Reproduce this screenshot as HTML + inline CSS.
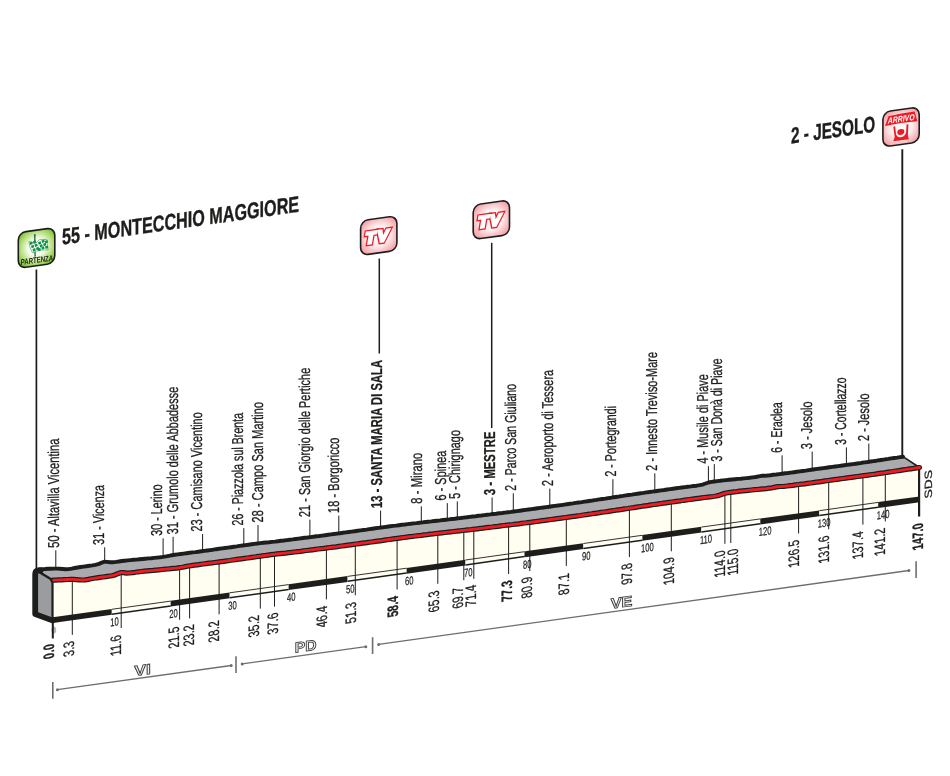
<!DOCTYPE html>
<html lang="it"><head><meta charset="utf-8"><title>Montecchio Maggiore - Jesolo</title>
<style>html,body{margin:0;padding:0;background:#fff}body{width:950px;height:776px;overflow:hidden}svg text{white-space:pre}</style></head>
<body>
<svg width="950" height="776" viewBox="0 0 950 776" style="display:block" font-family="'Liberation Sans', sans-serif">
<defs>
<radialGradient id="gG" cx="50%" cy="48%" r="64%"><stop offset="0" stop-color="#ffffff"/><stop offset="0.38" stop-color="#f4faea"/><stop offset="0.7" stop-color="#b3dd76"/><stop offset="1" stop-color="#63b824"/></radialGradient>
<radialGradient id="gP" cx="50%" cy="50%" r="65%"><stop offset="0" stop-color="#ffffff"/><stop offset="0.45" stop-color="#fdeff0"/><stop offset="0.8" stop-color="#f6b3b8"/><stop offset="1" stop-color="#f08f98"/></radialGradient>
<filter id="nf" x="0" y="0" width="950" height="776" filterUnits="userSpaceOnUse" color-interpolation-filters="sRGB"><feOffset dx="0" dy="0"/></filter>
</defs>
<rect width="950" height="776" fill="#fff"/>
<g filter="url(#nf)">
<g stroke="#1d1d1b" fill="none">
<line x1="36.4" y1="269.5" x2="36.4" y2="569" stroke-width="1.7"/>
<line x1="379.3" y1="258.5" x2="379.3" y2="353.5" stroke-width="1.5"/>
<line x1="491.7" y1="242.8" x2="491.7" y2="428" stroke-width="1.5"/>
<line x1="902.3" y1="149.3" x2="902.3" y2="457" stroke-width="1.9"/>
</g>
<polygon points="52.8,580.2 55.7,580.1 58.7,579.9 61.6,579.8 64.6,579.6 67.5,579.5 70.5,579.4 73.4,579.4 76.4,579.6 79.3,579.8 82.3,580.0 85.2,579.9 88.2,579.4 91.1,578.8 94.1,578.3 97.0,577.8 100.0,577.4 102.9,577.0 105.9,576.6 108.8,576.2 111.8,575.7 114.7,575.0 117.7,573.7 120.6,572.6 123.6,572.7 126.5,573.1 129.4,573.0 132.4,572.7 135.3,572.3 138.3,571.8 141.2,571.5 144.2,571.2 147.1,570.9 150.1,570.6 153.0,570.4 156.0,570.1 158.9,569.8 161.9,569.5 164.8,569.2 167.8,569.0 170.7,568.7 173.7,568.4 176.6,568.1 179.6,567.7 182.5,567.2 185.5,566.6 188.4,566.0 191.4,565.6 194.3,565.2 197.3,564.8 200.2,564.4 203.1,564.0 206.1,563.6 209.0,563.2 212.0,562.9 214.9,562.5 217.9,562.1 220.8,561.7 223.8,561.3 226.7,560.9 229.7,560.5 232.6,560.0 235.6,559.6 238.5,559.2 241.5,558.8 244.4,558.4 247.4,558.0 250.3,557.6 253.3,557.2 256.2,556.7 259.2,556.3 262.1,555.9 265.1,555.5 268.0,555.1 271.0,554.7 273.9,554.3 276.8,553.9 279.8,553.6 282.7,553.3 285.7,553.1 288.6,552.7 291.6,552.4 294.5,552.0 297.5,551.6 300.4,551.3 303.4,550.9 306.3,550.5 309.3,550.2 312.2,549.8 315.2,549.4 318.1,549.0 321.1,548.6 324.0,548.3 327.0,547.9 329.9,547.5 332.9,547.1 335.8,546.8 338.8,546.4 341.7,546.0 344.7,545.6 347.6,545.2 350.5,544.8 353.5,544.4 356.4,544.0 359.4,543.6 362.3,543.2 365.3,542.8 368.2,542.4 371.2,542.0 374.1,541.6 377.1,541.2 380.0,540.8 383.0,540.4 385.9,539.9 388.9,539.5 391.8,539.1 394.8,538.7 397.7,538.3 400.7,537.9 403.6,537.5 406.6,537.1 409.5,536.7 412.5,536.4 415.4,536.0 418.4,535.6 421.3,535.3 424.2,534.9 427.2,534.6 430.1,534.2 433.1,533.9 436.0,533.5 439.0,533.2 441.9,532.8 444.9,532.5 447.8,532.2 450.8,531.8 453.7,531.5 456.7,531.2 459.6,530.8 462.6,530.5 465.5,530.2 468.5,529.8 471.4,529.5 474.4,529.1 477.3,528.8 480.3,528.4 483.2,528.1 486.2,527.7 489.1,527.3 492.1,527.0 495.0,526.6 497.9,526.3 500.9,525.9 503.8,525.5 506.8,525.2 509.7,524.8 512.7,524.5 515.6,524.1 518.6,523.8 521.5,523.4 524.5,523.0 527.4,522.7 530.4,522.3 533.3,521.9 536.3,521.5 539.2,521.1 542.2,520.7 545.1,520.3 548.1,519.9 551.0,519.5 554.0,519.1 556.9,518.7 559.9,518.3 562.8,517.9 565.8,517.5 568.7,517.1 571.6,516.7 574.6,516.3 577.5,515.9 580.5,515.5 583.4,515.0 586.4,514.6 589.3,514.2 592.3,513.7 595.2,513.3 598.2,512.9 601.1,512.4 604.1,512.0 607.0,511.6 610.0,511.1 612.9,510.7 615.9,510.2 618.8,509.8 621.8,509.4 624.7,508.9 627.7,508.5 630.6,508.0 633.6,507.6 636.5,507.1 639.5,506.7 642.4,506.2 645.3,505.8 648.3,505.4 651.2,504.9 654.2,504.5 657.1,504.1 660.1,503.7 663.0,503.2 666.0,502.8 668.9,502.4 671.9,502.0 674.8,501.6 677.8,501.2 680.7,500.8 683.7,500.3 686.6,499.9 689.6,499.5 692.5,499.1 695.5,498.7 698.4,498.3 701.4,497.9 704.3,497.5 707.3,497.2 710.2,496.8 713.2,496.5 716.1,496.0 719.0,495.4 722.0,494.3 724.9,493.3 727.9,492.7 730.8,492.3 733.8,491.9 736.7,491.6 739.7,491.2 742.6,490.9 745.6,490.6 748.5,490.3 751.5,490.0 754.4,489.7 757.4,489.5 760.3,489.2 763.3,488.9 766.2,488.6 769.2,488.2 772.1,487.8 775.1,487.1 778.0,486.6 781.0,486.5 783.9,486.3 786.9,486.0 789.8,485.6 792.7,485.3 795.7,484.9 798.6,484.5 801.6,484.1 804.5,483.8 807.5,483.4 810.4,483.0 813.4,482.6 816.3,482.2 819.3,481.8 822.2,481.4 825.2,480.9 828.1,480.5 831.1,480.1 834.0,479.7 837.0,479.3 839.9,478.9 842.9,478.5 845.8,478.1 848.8,477.7 851.7,477.3 854.7,476.9 857.6,476.5 860.6,476.1 863.5,475.7 866.4,475.3 869.4,474.9 872.3,474.5 875.3,474.1 878.2,473.6 881.2,473.2 884.1,472.8 887.1,472.3 890.0,471.9 893.0,471.5 895.9,471.0 898.9,470.6 901.8,470.1 904.8,469.7 907.7,469.2 910.7,468.8 913.6,468.4 916.6,467.9 919.5,467.5 919.5,502.2 52.8,623.0" fill="#fffef1"/>
<polygon points="36.3,569.4 39.2,569.3 42.2,569.1 45.1,569.0 48.1,568.8 51.0,568.7 54.0,568.6 56.9,568.6 59.9,568.8 62.8,569.0 65.8,569.2 68.7,569.1 71.7,568.6 74.6,568.0 77.6,567.5 80.5,567.0 83.5,566.6 86.4,566.2 89.4,565.8 92.3,565.4 95.3,564.9 98.2,564.2 101.2,562.9 104.1,561.8 107.1,561.9 110.0,562.3 112.9,562.2 115.9,561.9 118.8,561.5 121.8,561.0 124.7,560.7 127.7,560.4 130.6,560.1 133.6,559.8 136.5,559.6 139.5,559.3 142.4,559.0 145.4,558.7 148.3,558.4 151.3,558.2 154.2,557.9 157.2,557.6 160.1,557.3 163.1,556.9 166.0,556.4 169.0,555.8 171.9,555.2 174.9,554.8 177.8,554.4 180.8,554.0 183.7,553.6 186.6,553.2 189.6,552.8 192.5,552.4 195.5,552.1 198.4,551.7 201.4,551.3 204.3,550.9 207.3,550.5 210.2,550.1 213.2,549.7 216.1,549.2 219.1,548.8 222.0,548.4 225.0,548.0 227.9,547.6 230.9,547.2 233.8,546.8 236.8,546.4 239.7,545.9 242.7,545.5 245.6,545.1 248.6,544.7 251.5,544.3 254.5,543.9 257.4,543.5 260.3,543.1 263.3,542.8 266.2,542.5 269.2,542.3 272.1,541.9 275.1,541.6 278.0,541.2 281.0,540.8 283.9,540.5 286.9,540.1 289.8,539.7 292.8,539.4 295.7,539.0 298.7,538.6 301.6,538.2 304.6,537.8 307.5,537.5 310.5,537.1 313.4,536.7 316.4,536.3 319.3,536.0 322.3,535.6 325.2,535.2 328.2,534.8 331.1,534.4 334.0,534.0 337.0,533.6 339.9,533.2 342.9,532.8 345.8,532.4 348.8,532.0 351.7,531.6 354.7,531.2 357.6,530.8 360.6,530.4 363.5,530.0 366.5,529.6 369.4,529.1 372.4,528.7 375.3,528.3 378.3,527.9 381.2,527.5 384.2,527.1 387.1,526.7 390.1,526.3 393.0,525.9 396.0,525.6 398.9,525.2 401.9,524.8 404.8,524.5 407.7,524.1 410.7,523.8 413.6,523.4 416.6,523.1 419.5,522.7 422.5,522.4 425.4,522.0 428.4,521.7 431.3,521.4 434.3,521.0 437.2,520.7 440.2,520.4 443.1,520.0 446.1,519.7 449.0,519.4 452.0,519.0 454.9,518.7 457.9,518.3 460.8,518.0 463.8,517.6 466.7,517.3 469.7,516.9 472.6,516.5 475.6,516.2 478.5,515.8 481.4,515.5 484.4,515.1 487.3,514.7 490.3,514.4 493.2,514.0 496.2,513.7 499.1,513.3 502.1,513.0 505.0,512.6 508.0,512.2 510.9,511.9 513.9,511.5 516.8,511.1 519.8,510.7 522.7,510.3 525.7,509.9 528.6,509.5 531.6,509.1 534.5,508.7 537.5,508.3 540.4,507.9 543.4,507.5 546.3,507.1 549.3,506.7 552.2,506.3 555.1,505.9 558.1,505.5 561.0,505.1 564.0,504.7 566.9,504.2 569.9,503.8 572.8,503.4 575.8,502.9 578.7,502.5 581.7,502.1 584.6,501.6 587.6,501.2 590.5,500.8 593.5,500.3 596.4,499.9 599.4,499.4 602.3,499.0 605.3,498.6 608.2,498.1 611.2,497.7 614.1,497.2 617.1,496.8 620.0,496.3 623.0,495.9 625.9,495.4 628.8,495.0 631.8,494.6 634.7,494.1 637.7,493.7 640.6,493.3 643.6,492.9 646.5,492.4 649.5,492.0 652.4,491.6 655.4,491.2 658.3,490.8 661.3,490.4 664.2,490.0 667.2,489.5 670.1,489.1 673.1,488.7 676.0,488.3 679.0,487.9 681.9,487.5 684.9,487.1 687.8,486.7 690.8,486.4 693.7,486.0 696.7,485.7 699.6,485.2 702.5,484.6 705.5,483.5 708.4,482.5 711.4,481.9 714.3,481.5 717.3,481.1 720.2,480.8 723.2,480.4 726.1,480.1 729.1,479.8 732.0,479.5 735.0,479.2 737.9,478.9 740.9,478.7 743.8,478.4 746.8,478.1 749.7,477.8 752.7,477.4 755.6,477.0 758.6,476.3 761.5,475.8 764.5,475.7 767.4,475.5 770.4,475.2 773.3,474.8 776.2,474.5 779.2,474.1 782.1,473.7 785.1,473.3 788.0,473.0 791.0,472.6 793.9,472.2 796.9,471.8 799.8,471.4 802.8,471.0 805.7,470.6 808.7,470.1 811.6,469.7 814.6,469.3 817.5,468.9 820.5,468.5 823.4,468.1 826.4,467.7 829.3,467.3 832.3,466.9 835.2,466.5 838.2,466.1 841.1,465.7 844.1,465.3 847.0,464.9 849.9,464.5 852.9,464.1 855.8,463.7 858.8,463.3 861.7,462.8 864.7,462.4 867.6,462.0 870.6,461.5 873.5,461.1 876.5,460.7 879.4,460.2 882.4,459.8 885.3,459.3 888.3,458.9 891.2,458.4 894.2,458.0 897.1,457.6 900.1,457.1 903.0,456.7 919.5,467.5 916.6,467.9 913.6,468.4 910.7,468.8 907.7,469.2 904.8,469.7 901.8,470.1 898.9,470.6 895.9,471.0 893.0,471.5 890.0,471.9 887.1,472.3 884.1,472.8 881.2,473.2 878.2,473.6 875.3,474.1 872.3,474.5 869.4,474.9 866.4,475.3 863.5,475.7 860.6,476.1 857.6,476.5 854.7,476.9 851.7,477.3 848.8,477.7 845.8,478.1 842.9,478.5 839.9,478.9 837.0,479.3 834.0,479.7 831.1,480.1 828.1,480.5 825.2,480.9 822.2,481.4 819.3,481.8 816.3,482.2 813.4,482.6 810.4,483.0 807.5,483.4 804.5,483.8 801.6,484.1 798.6,484.5 795.7,484.9 792.7,485.3 789.8,485.6 786.9,486.0 783.9,486.3 781.0,486.5 778.0,486.6 775.1,487.1 772.1,487.8 769.2,488.2 766.2,488.6 763.3,488.9 760.3,489.2 757.4,489.5 754.4,489.7 751.5,490.0 748.5,490.3 745.6,490.6 742.6,490.9 739.7,491.2 736.7,491.6 733.8,491.9 730.8,492.3 727.9,492.7 724.9,493.3 722.0,494.3 719.0,495.4 716.1,496.0 713.2,496.5 710.2,496.8 707.3,497.2 704.3,497.5 701.4,497.9 698.4,498.3 695.5,498.7 692.5,499.1 689.6,499.5 686.6,499.9 683.7,500.3 680.7,500.8 677.8,501.2 674.8,501.6 671.9,502.0 668.9,502.4 666.0,502.8 663.0,503.2 660.1,503.7 657.1,504.1 654.2,504.5 651.2,504.9 648.3,505.4 645.3,505.8 642.4,506.2 639.5,506.7 636.5,507.1 633.6,507.6 630.6,508.0 627.7,508.5 624.7,508.9 621.8,509.4 618.8,509.8 615.9,510.2 612.9,510.7 610.0,511.1 607.0,511.6 604.1,512.0 601.1,512.4 598.2,512.9 595.2,513.3 592.3,513.7 589.3,514.2 586.4,514.6 583.4,515.0 580.5,515.5 577.5,515.9 574.6,516.3 571.6,516.7 568.7,517.1 565.8,517.5 562.8,517.9 559.9,518.3 556.9,518.7 554.0,519.1 551.0,519.5 548.1,519.9 545.1,520.3 542.2,520.7 539.2,521.1 536.3,521.5 533.3,521.9 530.4,522.3 527.4,522.7 524.5,523.0 521.5,523.4 518.6,523.8 515.6,524.1 512.7,524.5 509.7,524.8 506.8,525.2 503.8,525.5 500.9,525.9 497.9,526.3 495.0,526.6 492.1,527.0 489.1,527.3 486.2,527.7 483.2,528.1 480.3,528.4 477.3,528.8 474.4,529.1 471.4,529.5 468.5,529.8 465.5,530.2 462.6,530.5 459.6,530.8 456.7,531.2 453.7,531.5 450.8,531.8 447.8,532.2 444.9,532.5 441.9,532.8 439.0,533.2 436.0,533.5 433.1,533.9 430.1,534.2 427.2,534.6 424.2,534.9 421.3,535.3 418.4,535.6 415.4,536.0 412.5,536.4 409.5,536.7 406.6,537.1 403.6,537.5 400.7,537.9 397.7,538.3 394.8,538.7 391.8,539.1 388.9,539.5 385.9,539.9 383.0,540.4 380.0,540.8 377.1,541.2 374.1,541.6 371.2,542.0 368.2,542.4 365.3,542.8 362.3,543.2 359.4,543.6 356.4,544.0 353.5,544.4 350.5,544.8 347.6,545.2 344.7,545.6 341.7,546.0 338.8,546.4 335.8,546.8 332.9,547.1 329.9,547.5 327.0,547.9 324.0,548.3 321.1,548.6 318.1,549.0 315.2,549.4 312.2,549.8 309.3,550.2 306.3,550.5 303.4,550.9 300.4,551.3 297.5,551.6 294.5,552.0 291.6,552.4 288.6,552.7 285.7,553.1 282.7,553.3 279.8,553.6 276.8,553.9 273.9,554.3 271.0,554.7 268.0,555.1 265.1,555.5 262.1,555.9 259.2,556.3 256.2,556.7 253.3,557.2 250.3,557.6 247.4,558.0 244.4,558.4 241.5,558.8 238.5,559.2 235.6,559.6 232.6,560.0 229.7,560.5 226.7,560.9 223.8,561.3 220.8,561.7 217.9,562.1 214.9,562.5 212.0,562.9 209.0,563.2 206.1,563.6 203.1,564.0 200.2,564.4 197.3,564.8 194.3,565.2 191.4,565.6 188.4,566.0 185.5,566.6 182.5,567.2 179.6,567.7 176.6,568.1 173.7,568.4 170.7,568.7 167.8,569.0 164.8,569.2 161.9,569.5 158.9,569.8 156.0,570.1 153.0,570.4 150.1,570.6 147.1,570.9 144.2,571.2 141.2,571.5 138.3,571.8 135.3,572.3 132.4,572.7 129.4,573.0 126.5,573.1 123.6,572.7 120.6,572.6 117.7,573.7 114.7,575.0 111.8,575.7 108.8,576.2 105.9,576.6 102.9,577.0 100.0,577.4 97.0,577.8 94.1,578.3 91.1,578.8 88.2,579.4 85.2,579.9 82.3,580.0 79.3,579.8 76.4,579.6 73.4,579.4 70.5,579.4 67.5,579.5 64.6,579.6 61.6,579.8 58.7,579.9 55.7,580.1 52.8,580.2" fill="#a9abae"/>
<polygon points="35.2,569.4 52.8,580.2 52.8,622.5 35.2,614.1" fill="#9a9c9f"/>
<polygon points="52.8,617.2 111.8,609.0 111.8,614.8 52.8,623.0" fill="#1d1d1b"/>
<polygon points="111.8,609.0 170.7,600.8 170.7,606.6 111.8,614.8" fill="#fffef4"/>
<line x1="111.8" y1="609.3" x2="170.7" y2="601.1" stroke="#1d1d1b" stroke-width="0.9"/>
<line x1="111.8" y1="614.2" x2="170.7" y2="606.0" stroke="#1d1d1b" stroke-width="1.5"/>
<polygon points="170.7,600.8 229.7,592.5 229.7,598.3 170.7,606.6" fill="#1d1d1b"/>
<polygon points="229.7,592.5 288.6,584.3 288.6,590.1 229.7,598.3" fill="#fffef4"/>
<line x1="229.7" y1="592.8" x2="288.6" y2="584.6" stroke="#1d1d1b" stroke-width="0.9"/>
<line x1="229.7" y1="597.7" x2="288.6" y2="589.5" stroke="#1d1d1b" stroke-width="1.5"/>
<polygon points="288.6,584.3 347.6,576.1 347.6,581.9 288.6,590.1" fill="#1d1d1b"/>
<polygon points="347.6,576.1 406.6,567.9 406.6,573.7 347.6,581.9" fill="#fffef4"/>
<line x1="347.6" y1="576.4" x2="406.6" y2="568.2" stroke="#1d1d1b" stroke-width="0.9"/>
<line x1="347.6" y1="581.3" x2="406.6" y2="573.1" stroke="#1d1d1b" stroke-width="1.5"/>
<polygon points="406.6,567.9 465.5,559.7 465.5,565.5 406.6,573.7" fill="#1d1d1b"/>
<polygon points="465.5,559.7 524.5,551.4 524.5,557.2 465.5,565.5" fill="#fffef4"/>
<line x1="465.5" y1="560.0" x2="524.5" y2="551.7" stroke="#1d1d1b" stroke-width="0.9"/>
<line x1="465.5" y1="564.9" x2="524.5" y2="556.6" stroke="#1d1d1b" stroke-width="1.5"/>
<polygon points="524.5,551.4 583.4,543.2 583.4,549.0 524.5,557.2" fill="#1d1d1b"/>
<polygon points="583.4,543.2 642.4,535.0 642.4,540.8 583.4,549.0" fill="#fffef4"/>
<line x1="583.4" y1="543.5" x2="642.4" y2="535.3" stroke="#1d1d1b" stroke-width="0.9"/>
<line x1="583.4" y1="548.4" x2="642.4" y2="540.2" stroke="#1d1d1b" stroke-width="1.5"/>
<polygon points="642.4,535.0 701.4,526.8 701.4,532.6 642.4,540.8" fill="#1d1d1b"/>
<polygon points="701.4,526.8 760.3,518.6 760.3,524.4 701.4,532.6" fill="#fffef4"/>
<line x1="701.4" y1="527.1" x2="760.3" y2="518.9" stroke="#1d1d1b" stroke-width="0.9"/>
<line x1="701.4" y1="532.0" x2="760.3" y2="523.8" stroke="#1d1d1b" stroke-width="1.5"/>
<polygon points="760.3,518.6 819.3,510.4 819.3,516.2 760.3,524.4" fill="#1d1d1b"/>
<polygon points="819.3,510.4 878.2,502.1 878.2,507.9 819.3,516.2" fill="#fffef4"/>
<line x1="819.3" y1="510.7" x2="878.2" y2="502.4" stroke="#1d1d1b" stroke-width="0.9"/>
<line x1="819.3" y1="515.6" x2="878.2" y2="507.3" stroke="#1d1d1b" stroke-width="1.5"/>
<polygon points="878.2,502.1 919.5,496.4 919.5,502.2 878.2,507.9" fill="#1d1d1b"/>
<g stroke="#1d1d1b" stroke-width="1">
<line x1="72.3" y1="579.4" x2="72.3" y2="634.8"/>
<line x1="121.2" y1="572.6" x2="121.2" y2="628.0"/>
<line x1="179.6" y1="567.7" x2="179.6" y2="619.8"/>
<line x1="189.6" y1="565.8" x2="189.6" y2="618.4"/>
<line x1="219.1" y1="561.9" x2="219.1" y2="614.3"/>
<line x1="260.3" y1="556.2" x2="260.3" y2="608.6"/>
<line x1="274.5" y1="554.2" x2="274.5" y2="606.6"/>
<line x1="326.4" y1="548.0" x2="326.4" y2="599.4"/>
<line x1="355.3" y1="544.2" x2="355.3" y2="595.3"/>
<line x1="397.1" y1="538.4" x2="397.1" y2="589.5"/>
<line x1="437.8" y1="533.3" x2="437.8" y2="583.8"/>
<line x1="463.8" y1="530.4" x2="463.8" y2="580.2"/>
<line x1="473.8" y1="529.2" x2="473.8" y2="578.8"/>
<line x1="508.6" y1="525.0" x2="508.6" y2="574.0"/>
<line x1="529.8" y1="522.3" x2="529.8" y2="571.0"/>
<line x1="566.3" y1="517.4" x2="566.3" y2="565.9"/>
<line x1="629.4" y1="508.2" x2="629.4" y2="557.1"/>
<line x1="671.3" y1="502.1" x2="671.3" y2="551.3"/>
<line x1="724.9" y1="493.3" x2="724.9" y2="543.8"/>
<line x1="730.8" y1="492.3" x2="730.8" y2="543.0"/>
<line x1="798.6" y1="484.5" x2="798.6" y2="533.5"/>
<line x1="828.7" y1="480.5" x2="828.7" y2="529.3"/>
<line x1="862.9" y1="475.8" x2="862.9" y2="524.6"/>
<line x1="885.3" y1="472.6" x2="885.3" y2="521.4"/>
</g>
<ellipse cx="53.8" cy="630.0" rx="2.4" ry="3.6" fill="#b3b4b7"/>
<line x1="52.8" y1="621.0" x2="52.8" y2="638.5" stroke="#1d1d1b" stroke-width="2"/>
<line x1="919.1" y1="467.5" x2="919.1" y2="516.5" stroke="#1d1d1b" stroke-width="2.2"/>
<path d="M52.3 620.4 L35.2 614.1 L35.2 574.0 Q35.2 570.4 38.8 570.4 L40.7 570.3" fill="none" stroke="#1d1d1b" stroke-width="5.8" stroke-linejoin="round" stroke-linecap="round"/>
<line x1="52.5" y1="580.2" x2="52.5" y2="622.0" stroke="#1d1d1b" stroke-width="2.2"/>
<line x1="36.2" y1="570.2" x2="52.8" y2="580.2" stroke="#1d1d1b" stroke-width="2.5"/>
<polyline points="38.4,569.4 42.2,569.1 45.1,569.0 48.1,568.8 51.0,568.7 54.0,568.6 56.9,568.6 59.9,568.8 62.8,569.0 65.8,569.2 68.7,569.1 71.7,568.6 74.6,568.0 77.6,567.5 80.5,567.0 83.5,566.6 86.4,566.2 89.4,565.8 92.3,565.4 95.3,564.9 98.2,564.2 101.2,562.9 104.1,561.8 107.1,561.9 110.0,562.3 112.9,562.2 115.9,561.9 118.8,561.5 121.8,561.0 124.7,560.7 127.7,560.4 130.6,560.1 133.6,559.8 136.5,559.6 139.5,559.3 142.4,559.0 145.4,558.7 148.3,558.4 151.3,558.2 154.2,557.9 157.2,557.6 160.1,557.3 163.1,556.9 166.0,556.4 169.0,555.8 171.9,555.2 174.9,554.8 177.8,554.4 180.8,554.0 183.7,553.6 186.6,553.2 189.6,552.8 192.5,552.4 195.5,552.1 198.4,551.7 201.4,551.3 204.3,550.9 207.3,550.5 210.2,550.1 213.2,549.7 216.1,549.2 219.1,548.8 222.0,548.4 225.0,548.0 227.9,547.6 230.9,547.2 233.8,546.8 236.8,546.4 239.7,545.9 242.7,545.5 245.6,545.1 248.6,544.7 251.5,544.3 254.5,543.9 257.4,543.5 260.3,543.1 263.3,542.8 266.2,542.5 269.2,542.3 272.1,541.9 275.1,541.6 278.0,541.2 281.0,540.8 283.9,540.5 286.9,540.1 289.8,539.7 292.8,539.4 295.7,539.0 298.7,538.6 301.6,538.2 304.6,537.8 307.5,537.5 310.5,537.1 313.4,536.7 316.4,536.3 319.3,536.0 322.3,535.6 325.2,535.2 328.2,534.8 331.1,534.4 334.0,534.0 337.0,533.6 339.9,533.2 342.9,532.8 345.8,532.4 348.8,532.0 351.7,531.6 354.7,531.2 357.6,530.8 360.6,530.4 363.5,530.0 366.5,529.6 369.4,529.1 372.4,528.7 375.3,528.3 378.3,527.9 381.2,527.5 384.2,527.1 387.1,526.7 390.1,526.3 393.0,525.9 396.0,525.6 398.9,525.2 401.9,524.8 404.8,524.5 407.7,524.1 410.7,523.8 413.6,523.4 416.6,523.1 419.5,522.7 422.5,522.4 425.4,522.0 428.4,521.7 431.3,521.4 434.3,521.0 437.2,520.7 440.2,520.4 443.1,520.0 446.1,519.7 449.0,519.4 452.0,519.0 454.9,518.7 457.9,518.3 460.8,518.0 463.8,517.6 466.7,517.3 469.7,516.9 472.6,516.5 475.6,516.2 478.5,515.8 481.4,515.5 484.4,515.1 487.3,514.7 490.3,514.4 493.2,514.0 496.2,513.7 499.1,513.3 502.1,513.0 505.0,512.6 508.0,512.2 510.9,511.9 513.9,511.5 516.8,511.1 519.8,510.7 522.7,510.3 525.7,509.9 528.6,509.5 531.6,509.1 534.5,508.7 537.5,508.3 540.4,507.9 543.4,507.5 546.3,507.1 549.3,506.7 552.2,506.3 555.1,505.9 558.1,505.5 561.0,505.1 564.0,504.7 566.9,504.2 569.9,503.8 572.8,503.4 575.8,502.9 578.7,502.5 581.7,502.1 584.6,501.6 587.6,501.2 590.5,500.8 593.5,500.3 596.4,499.9 599.4,499.4 602.3,499.0 605.3,498.6 608.2,498.1 611.2,497.7 614.1,497.2 617.1,496.8 620.0,496.3 623.0,495.9 625.9,495.4 628.8,495.0 631.8,494.6 634.7,494.1 637.7,493.7 640.6,493.3 643.6,492.9 646.5,492.4 649.5,492.0 652.4,491.6 655.4,491.2 658.3,490.8 661.3,490.4 664.2,490.0 667.2,489.5 670.1,489.1 673.1,488.7 676.0,488.3 679.0,487.9 681.9,487.5 684.9,487.1 687.8,486.7 690.8,486.4 693.7,486.0 696.7,485.7 699.6,485.2 702.5,484.6 705.5,483.5 708.4,482.5 711.4,481.9 714.3,481.5 717.3,481.1 720.2,480.8 723.2,480.4 726.1,480.1 729.1,479.8 732.0,479.5 735.0,479.2 737.9,478.9 740.9,478.7 743.8,478.4 746.8,478.1 749.7,477.8 752.7,477.4 755.6,477.0 758.6,476.3 761.5,475.8 764.5,475.7 767.4,475.5 770.4,475.2 773.3,474.8 776.2,474.5 779.2,474.1 782.1,473.7 785.1,473.3 788.0,473.0 791.0,472.6 793.9,472.2 796.9,471.8 799.8,471.4 802.8,471.0 805.7,470.6 808.7,470.1 811.6,469.7 814.6,469.3 817.5,468.9 820.5,468.5 823.4,468.1 826.4,467.7 829.3,467.3 832.3,466.9 835.2,466.5 838.2,466.1 841.1,465.7 844.1,465.3 847.0,464.9 849.9,464.5 852.9,464.1 855.8,463.7 858.8,463.3 861.7,462.8 864.7,462.4 867.6,462.0 870.6,461.5 873.5,461.1 876.5,460.7 879.4,460.2 882.4,459.8 885.3,459.3 888.3,458.9 891.2,458.4 894.2,458.0 897.1,457.6 900.1,457.1 903.0,456.7" fill="none" stroke="#1d1d1b" stroke-width="3.9" stroke-linejoin="round" stroke-linecap="round"/>
<line x1="903.0" y1="456.7" x2="919.5" y2="467.5" stroke="#1d1d1b" stroke-width="1.6"/>
<polyline points="52.8,580.2 55.7,580.1 58.7,579.9 61.6,579.8 64.6,579.6 67.5,579.5 70.5,579.4 73.4,579.4 76.4,579.6 79.3,579.8 82.3,580.0 85.2,579.9 88.2,579.4 91.1,578.8 94.1,578.3 97.0,577.8 100.0,577.4 102.9,577.0 105.9,576.6 108.8,576.2 111.8,575.7 114.7,575.0 117.7,573.7 120.6,572.6 123.6,572.7 126.5,573.1 129.4,573.0 132.4,572.7 135.3,572.3 138.3,571.8 141.2,571.5 144.2,571.2 147.1,570.9 150.1,570.6 153.0,570.4 156.0,570.1 158.9,569.8 161.9,569.5 164.8,569.2 167.8,569.0 170.7,568.7 173.7,568.4 176.6,568.1 179.6,567.7 182.5,567.2 185.5,566.6 188.4,566.0 191.4,565.6 194.3,565.2 197.3,564.8 200.2,564.4 203.1,564.0 206.1,563.6 209.0,563.2 212.0,562.9 214.9,562.5 217.9,562.1 220.8,561.7 223.8,561.3 226.7,560.9 229.7,560.5 232.6,560.0 235.6,559.6 238.5,559.2 241.5,558.8 244.4,558.4 247.4,558.0 250.3,557.6 253.3,557.2 256.2,556.7 259.2,556.3 262.1,555.9 265.1,555.5 268.0,555.1 271.0,554.7 273.9,554.3 276.8,553.9 279.8,553.6 282.7,553.3 285.7,553.1 288.6,552.7 291.6,552.4 294.5,552.0 297.5,551.6 300.4,551.3 303.4,550.9 306.3,550.5 309.3,550.2 312.2,549.8 315.2,549.4 318.1,549.0 321.1,548.6 324.0,548.3 327.0,547.9 329.9,547.5 332.9,547.1 335.8,546.8 338.8,546.4 341.7,546.0 344.7,545.6 347.6,545.2 350.5,544.8 353.5,544.4 356.4,544.0 359.4,543.6 362.3,543.2 365.3,542.8 368.2,542.4 371.2,542.0 374.1,541.6 377.1,541.2 380.0,540.8 383.0,540.4 385.9,539.9 388.9,539.5 391.8,539.1 394.8,538.7 397.7,538.3 400.7,537.9 403.6,537.5 406.6,537.1 409.5,536.7 412.5,536.4 415.4,536.0 418.4,535.6 421.3,535.3 424.2,534.9 427.2,534.6 430.1,534.2 433.1,533.9 436.0,533.5 439.0,533.2 441.9,532.8 444.9,532.5 447.8,532.2 450.8,531.8 453.7,531.5 456.7,531.2 459.6,530.8 462.6,530.5 465.5,530.2 468.5,529.8 471.4,529.5 474.4,529.1 477.3,528.8 480.3,528.4 483.2,528.1 486.2,527.7 489.1,527.3 492.1,527.0 495.0,526.6 497.9,526.3 500.9,525.9 503.8,525.5 506.8,525.2 509.7,524.8 512.7,524.5 515.6,524.1 518.6,523.8 521.5,523.4 524.5,523.0 527.4,522.7 530.4,522.3 533.3,521.9 536.3,521.5 539.2,521.1 542.2,520.7 545.1,520.3 548.1,519.9 551.0,519.5 554.0,519.1 556.9,518.7 559.9,518.3 562.8,517.9 565.8,517.5 568.7,517.1 571.6,516.7 574.6,516.3 577.5,515.9 580.5,515.5 583.4,515.0 586.4,514.6 589.3,514.2 592.3,513.7 595.2,513.3 598.2,512.9 601.1,512.4 604.1,512.0 607.0,511.6 610.0,511.1 612.9,510.7 615.9,510.2 618.8,509.8 621.8,509.4 624.7,508.9 627.7,508.5 630.6,508.0 633.6,507.6 636.5,507.1 639.5,506.7 642.4,506.2 645.3,505.8 648.3,505.4 651.2,504.9 654.2,504.5 657.1,504.1 660.1,503.7 663.0,503.2 666.0,502.8 668.9,502.4 671.9,502.0 674.8,501.6 677.8,501.2 680.7,500.8 683.7,500.3 686.6,499.9 689.6,499.5 692.5,499.1 695.5,498.7 698.4,498.3 701.4,497.9 704.3,497.5 707.3,497.2 710.2,496.8 713.2,496.5 716.1,496.0 719.0,495.4 722.0,494.3 724.9,493.3 727.9,492.7 730.8,492.3 733.8,491.9 736.7,491.6 739.7,491.2 742.6,490.9 745.6,490.6 748.5,490.3 751.5,490.0 754.4,489.7 757.4,489.5 760.3,489.2 763.3,488.9 766.2,488.6 769.2,488.2 772.1,487.8 775.1,487.1 778.0,486.6 781.0,486.5 783.9,486.3 786.9,486.0 789.8,485.6 792.7,485.3 795.7,484.9 798.6,484.5 801.6,484.1 804.5,483.8 807.5,483.4 810.4,483.0 813.4,482.6 816.3,482.2 819.3,481.8 822.2,481.4 825.2,480.9 828.1,480.5 831.1,480.1 834.0,479.7 837.0,479.3 839.9,478.9 842.9,478.5 845.8,478.1 848.8,477.7 851.7,477.3 854.7,476.9 857.6,476.5 860.6,476.1 863.5,475.7 866.4,475.3 869.4,474.9 872.3,474.5 875.3,474.1 878.2,473.6 881.2,473.2 884.1,472.8 887.1,472.3 890.0,471.9 893.0,471.5 895.9,471.0 898.9,470.6 901.8,470.1 904.8,469.7 907.7,469.2 910.7,468.8 913.6,468.4 916.6,467.9 919.5,467.5" fill="none" stroke="#1d1d1b" stroke-width="5.2" stroke-linejoin="round" stroke-linecap="round"/>
<polyline points="53.6,580.2 55.7,580.1 58.7,579.9 61.6,579.8 64.6,579.6 67.5,579.5 70.5,579.4 73.4,579.4 76.4,579.6 79.3,579.8 82.3,580.0 85.2,579.9 88.2,579.4 91.1,578.8 94.1,578.3 97.0,577.8 100.0,577.4 102.9,577.0 105.9,576.6 108.8,576.2 111.8,575.7 114.7,575.0 117.7,573.7 120.6,572.6 123.6,572.7 126.5,573.1 129.4,573.0 132.4,572.7 135.3,572.3 138.3,571.8 141.2,571.5 144.2,571.2 147.1,570.9 150.1,570.6 153.0,570.4 156.0,570.1 158.9,569.8 161.9,569.5 164.8,569.2 167.8,569.0 170.7,568.7 173.7,568.4 176.6,568.1 179.6,567.7 182.5,567.2 185.5,566.6 188.4,566.0 191.4,565.6 194.3,565.2 197.3,564.8 200.2,564.4 203.1,564.0 206.1,563.6 209.0,563.2 212.0,562.9 214.9,562.5 217.9,562.1 220.8,561.7 223.8,561.3 226.7,560.9 229.7,560.5 232.6,560.0 235.6,559.6 238.5,559.2 241.5,558.8 244.4,558.4 247.4,558.0 250.3,557.6 253.3,557.2 256.2,556.7 259.2,556.3 262.1,555.9 265.1,555.5 268.0,555.1 271.0,554.7 273.9,554.3 276.8,553.9 279.8,553.6 282.7,553.3 285.7,553.1 288.6,552.7 291.6,552.4 294.5,552.0 297.5,551.6 300.4,551.3 303.4,550.9 306.3,550.5 309.3,550.2 312.2,549.8 315.2,549.4 318.1,549.0 321.1,548.6 324.0,548.3 327.0,547.9 329.9,547.5 332.9,547.1 335.8,546.8 338.8,546.4 341.7,546.0 344.7,545.6 347.6,545.2 350.5,544.8 353.5,544.4 356.4,544.0 359.4,543.6 362.3,543.2 365.3,542.8 368.2,542.4 371.2,542.0 374.1,541.6 377.1,541.2 380.0,540.8 383.0,540.4 385.9,539.9 388.9,539.5 391.8,539.1 394.8,538.7 397.7,538.3 400.7,537.9 403.6,537.5 406.6,537.1 409.5,536.7 412.5,536.4 415.4,536.0 418.4,535.6 421.3,535.3 424.2,534.9 427.2,534.6 430.1,534.2 433.1,533.9 436.0,533.5 439.0,533.2 441.9,532.8 444.9,532.5 447.8,532.2 450.8,531.8 453.7,531.5 456.7,531.2 459.6,530.8 462.6,530.5 465.5,530.2 468.5,529.8 471.4,529.5 474.4,529.1 477.3,528.8 480.3,528.4 483.2,528.1 486.2,527.7 489.1,527.3 492.1,527.0 495.0,526.6 497.9,526.3 500.9,525.9 503.8,525.5 506.8,525.2 509.7,524.8 512.7,524.5 515.6,524.1 518.6,523.8 521.5,523.4 524.5,523.0 527.4,522.7 530.4,522.3 533.3,521.9 536.3,521.5 539.2,521.1 542.2,520.7 545.1,520.3 548.1,519.9 551.0,519.5 554.0,519.1 556.9,518.7 559.9,518.3 562.8,517.9 565.8,517.5 568.7,517.1 571.6,516.7 574.6,516.3 577.5,515.9 580.5,515.5 583.4,515.0 586.4,514.6 589.3,514.2 592.3,513.7 595.2,513.3 598.2,512.9 601.1,512.4 604.1,512.0 607.0,511.6 610.0,511.1 612.9,510.7 615.9,510.2 618.8,509.8 621.8,509.4 624.7,508.9 627.7,508.5 630.6,508.0 633.6,507.6 636.5,507.1 639.5,506.7 642.4,506.2 645.3,505.8 648.3,505.4 651.2,504.9 654.2,504.5 657.1,504.1 660.1,503.7 663.0,503.2 666.0,502.8 668.9,502.4 671.9,502.0 674.8,501.6 677.8,501.2 680.7,500.8 683.7,500.3 686.6,499.9 689.6,499.5 692.5,499.1 695.5,498.7 698.4,498.3 701.4,497.9 704.3,497.5 707.3,497.2 710.2,496.8 713.2,496.5 716.1,496.0 719.0,495.4 722.0,494.3 724.9,493.3 727.9,492.7 730.8,492.3 733.8,491.9 736.7,491.6 739.7,491.2 742.6,490.9 745.6,490.6 748.5,490.3 751.5,490.0 754.4,489.7 757.4,489.5 760.3,489.2 763.3,488.9 766.2,488.6 769.2,488.2 772.1,487.8 775.1,487.1 778.0,486.6 781.0,486.5 783.9,486.3 786.9,486.0 789.8,485.6 792.7,485.3 795.7,484.9 798.6,484.5 801.6,484.1 804.5,483.8 807.5,483.4 810.4,483.0 813.4,482.6 816.3,482.2 819.3,481.8 822.2,481.4 825.2,480.9 828.1,480.5 831.1,480.1 834.0,479.7 837.0,479.3 839.9,478.9 842.9,478.5 845.8,478.1 848.8,477.7 851.7,477.3 854.7,476.9 857.6,476.5 860.6,476.1 863.5,475.7 866.4,475.3 869.4,474.9 872.3,474.5 875.3,474.1 878.2,473.6 881.2,473.2 884.1,472.8 887.1,472.3 890.0,471.9 893.0,471.5 895.9,471.0 898.9,470.6 901.8,470.1 904.8,469.7 907.7,469.2 910.7,468.8 913.6,468.4 916.6,467.9 919.5,467.5" fill="none" stroke="#ee1c25" stroke-width="2.8" stroke-linejoin="round" stroke-linecap="round"/>
<g stroke="#1d1d1b" stroke-width="1">
<line x1="55.8" y1="550.3" x2="55.8" y2="568.6"/>
<line x1="104.7" y1="547.3" x2="104.7" y2="561.8"/>
<line x1="163.1" y1="538.3" x2="163.1" y2="556.9"/>
<line x1="173.1" y1="536.8" x2="173.1" y2="555.0"/>
<line x1="202.6" y1="534.0" x2="202.6" y2="551.1"/>
<line x1="243.8" y1="528.1" x2="243.8" y2="545.4"/>
<line x1="258.0" y1="525.0" x2="258.0" y2="543.4"/>
<line x1="309.9" y1="519.6" x2="309.9" y2="537.2"/>
<line x1="338.8" y1="515.6" x2="338.8" y2="533.4"/>
<line x1="380.6" y1="510.6" x2="380.6" y2="527.6"/>
<line x1="421.3" y1="506.3" x2="421.3" y2="522.5"/>
<line x1="447.3" y1="503.1" x2="447.3" y2="519.6"/>
<line x1="457.3" y1="501.4" x2="457.3" y2="518.4"/>
<line x1="492.1" y1="497.5" x2="492.1" y2="514.2"/>
<line x1="513.3" y1="493.3" x2="513.3" y2="511.5"/>
<line x1="549.8" y1="488.6" x2="549.8" y2="506.6"/>
<line x1="612.9" y1="479.2" x2="612.9" y2="497.4"/>
<line x1="654.8" y1="473.3" x2="654.8" y2="491.3"/>
<line x1="708.4" y1="466.2" x2="708.4" y2="482.5"/>
<line x1="714.3" y1="464.1" x2="714.3" y2="481.5"/>
<line x1="782.1" y1="455.3" x2="782.1" y2="473.7"/>
<line x1="812.2" y1="451.6" x2="812.2" y2="469.7"/>
<line x1="846.4" y1="447.4" x2="846.4" y2="465.0"/>
<line x1="868.8" y1="443.6" x2="868.8" y2="461.8"/>
</g>
<g fill="#1d1d1b" stroke="#1d1d1b" stroke-width="0.3">
<text transform="matrix(0 -1 1 -0.0200 59.01 547.70) scale(0.708 1)" font-size="15.8">50 - Altavilla Vicentina</text>
<text transform="matrix(0 -1 1 -0.0200 104.14 544.70) scale(0.684 1)" font-size="15.8">31 - Vicenza</text>
<text transform="matrix(0 -1 1 -0.0200 162.31 535.70) scale(0.680 1)" font-size="15.8">30 - Lerino</text>
<text transform="matrix(0 -1 1 -0.0200 178.44 534.20) scale(0.694 1)" font-size="15.8">31 - Grumolo delle Abbadesse</text>
<text transform="matrix(0 -1 1 -0.0200 202.02 531.40) scale(0.694 1)" font-size="15.8">23 - Camisano Vicentino</text>
<text transform="matrix(0 -1 1 -0.0200 243.09 525.50) scale(0.676 1)" font-size="15.8">26 - Piazzola sul Brenta</text>
<text transform="matrix(0 -1 1 -0.0200 262.74 522.40) scale(0.701 1)" font-size="15.8">28 - Campo San Martino</text>
<text transform="matrix(0 -1 1 -0.0200 310.12 517.00) scale(0.694 1)" font-size="15.8">21 - San Giorgio delle Pertiche</text>
<text transform="matrix(0 -1 1 -0.0200 339.11 513.00) scale(0.705 1)" font-size="15.8">18 - Borgoricco</text>
<text transform="matrix(0 -1 1 -0.0200 381.63 508.00) scale(0.715 1)" font-size="15.8" font-weight="bold">13 - SANTA MARIA DI SALA</text>
<text transform="matrix(0 -1 1 -0.0200 422.06 503.70) scale(0.719 1)" font-size="15.8">8 - Mirano</text>
<text transform="matrix(0 -1 1 -0.0200 446.20 500.50) scale(0.694 1)" font-size="15.8">6 - Spinea</text>
<text transform="matrix(0 -1 1 -0.0200 459.62 498.80) scale(0.694 1)" font-size="15.8">5 - Chirignago</text>
<text transform="matrix(0 -1 1 -0.0200 495.06 494.90) scale(0.715 1)" font-size="15.8" font-weight="bold">3 - MESTRE</text>
<text transform="matrix(0 -1 1 -0.0200 515.64 490.70) scale(0.673 1)" font-size="15.8">2 - Parco San Giuliano</text>
<text transform="matrix(0 -1 1 -0.0200 552.79 486.00) scale(0.694 1)" font-size="15.8">2 - Aeroporto di Tessera</text>
<text transform="matrix(0 -1 1 -0.0200 615.58 476.60) scale(0.677 1)" font-size="15.8">2 - Portegrandi</text>
<text transform="matrix(0 -1 1 -0.0200 657.44 470.70) scale(0.694 1)" font-size="15.8">2 - Innesto Treviso-Mare</text>
<text transform="matrix(0 -1 1 -0.0200 708.19 463.60) scale(0.694 1)" font-size="15.8">4 - Musile di Piave</text>
<text transform="matrix(0 -1 1 -0.0200 722.09 461.50) scale(0.672 1)" font-size="15.8">3 - San Donà di Piave</text>
<text transform="matrix(0 -1 1 -0.0200 781.79 452.70) scale(0.663 1)" font-size="15.8">6 - Eraclea</text>
<text transform="matrix(0 -1 1 -0.0200 811.96 449.00) scale(0.694 1)" font-size="15.8">3 - Jesolo</text>
<text transform="matrix(0 -1 1 -0.0200 845.86 444.80) scale(0.663 1)" font-size="15.8">3 - Cortellazzo</text>
<text transform="matrix(0 -1 1 -0.0200 868.57 441.00) scale(0.694 1)" font-size="15.8">2 - Jesolo</text>
<text transform="matrix(0 -1 1 -0.2000 53.90 643.20) scale(0.704 1)" font-size="15.1" font-weight="bold" text-anchor="end">0.0</text>
<text transform="matrix(0 -1 1 -0.2000 74.26 640.40) scale(0.725 1)" font-size="15.1" text-anchor="end">3.3</text>
<text transform="matrix(0 -1 1 -0.2000 120.59 634.30) scale(0.725 1)" font-size="15.1" text-anchor="end">11.6</text>
<text transform="matrix(0 -1 1 -0.2000 179.16 626.00) scale(0.725 1)" font-size="15.1" text-anchor="end">21.5</text>
<text transform="matrix(0 -1 1 -0.2000 193.59 623.80) scale(0.725 1)" font-size="15.1" text-anchor="end">23.2</text>
<text transform="matrix(0 -1 1 -0.2000 218.87 619.90) scale(0.725 1)" font-size="15.1" text-anchor="end">28.2</text>
<text transform="matrix(0 -1 1 -0.2000 259.14 614.70) scale(0.725 1)" font-size="15.1" text-anchor="end">35.2</text>
<text transform="matrix(0 -1 1 -0.2000 278.39 612.00) scale(0.725 1)" font-size="15.1" text-anchor="end">37.6</text>
<text transform="matrix(0 -1 1 -0.2000 327.47 605.20) scale(0.725 1)" font-size="15.1" text-anchor="end">46.4</text>
<text transform="matrix(0 -1 1 -0.2000 356.36 601.30) scale(0.725 1)" font-size="15.1" text-anchor="end">51.3</text>
<text transform="matrix(0 -1 1 -0.2000 398.23 595.40) scale(0.704 1)" font-size="15.1" font-weight="bold" text-anchor="end">58.4</text>
<text transform="matrix(0 -1 1 -0.2000 439.01 589.90) scale(0.725 1)" font-size="15.1" text-anchor="end">65.3</text>
<text transform="matrix(0 -1 1 -0.2000 463.35 586.30) scale(0.725 1)" font-size="15.1" text-anchor="end">69.7</text>
<text transform="matrix(0 -1 1 -0.2000 476.47 584.10) scale(0.725 1)" font-size="15.1" text-anchor="end">71.4</text>
<text transform="matrix(0 -1 1 -0.2000 511.56 579.70) scale(0.704 1)" font-size="15.1" font-weight="bold" text-anchor="end">77.3</text>
<text transform="matrix(0 -1 1 -0.2000 532.19 576.00) scale(0.725 1)" font-size="15.1" text-anchor="end">80.9</text>
<text transform="matrix(0 -1 1 -0.2000 568.54 572.60) scale(0.725 1)" font-size="15.1" text-anchor="end">87.1</text>
<text transform="matrix(0 -1 1 -0.2000 632.23 562.30) scale(0.725 1)" font-size="15.1" text-anchor="end">97.8</text>
<text transform="matrix(0 -1 1 -0.2000 673.59 556.50) scale(0.725 1)" font-size="15.1" text-anchor="end">104.9</text>
<text transform="matrix(0 -1 1 -0.2000 724.84 549.70) scale(0.725 1)" font-size="15.1" text-anchor="end">114.0</text>
<text transform="matrix(0 -1 1 -0.2000 738.34 547.80) scale(0.725 1)" font-size="15.1" text-anchor="end">115.0</text>
<text transform="matrix(0 -1 1 -0.2000 799.14 539.10) scale(0.725 1)" font-size="15.1" text-anchor="end">126.5</text>
<text transform="matrix(0 -1 1 -0.2000 828.51 534.90) scale(0.725 1)" font-size="15.1" text-anchor="end">131.6</text>
<text transform="matrix(0 -1 1 -0.2000 862.51 530.70) scale(0.725 1)" font-size="15.1" text-anchor="end">137.4</text>
<text transform="matrix(0 -1 1 -0.2000 885.32 527.40) scale(0.725 1)" font-size="15.1" text-anchor="end">141.2</text>
<text transform="matrix(0 -1 1 -0.2000 922.51 522.30) scale(0.704 1)" font-size="15.1" font-weight="bold" text-anchor="end">147.0</text>
</g>
<g fill="#1d1d1b" font-size="11.6" stroke="#1d1d1b" stroke-width="0.22">
<text transform="matrix(1 -0.1394 0 1 110.3 626.4) scale(0.66 1)">10</text>
<text transform="matrix(1 -0.1394 0 1 169.2 618.2) scale(0.66 1)">20</text>
<text transform="matrix(1 -0.1394 0 1 228.2 610.0) scale(0.66 1)">30</text>
<text transform="matrix(1 -0.1394 0 1 287.1 601.7) scale(0.66 1)">40</text>
<text transform="matrix(1 -0.1394 0 1 346.1 593.5) scale(0.66 1)">50</text>
<text transform="matrix(1 -0.1394 0 1 405.1 585.3) scale(0.66 1)">60</text>
<text transform="matrix(1 -0.1394 0 1 464.0 577.1) scale(0.66 1)">70</text>
<text transform="matrix(1 -0.1394 0 1 523.0 568.9) scale(0.66 1)">80</text>
<text transform="matrix(1 -0.1394 0 1 581.9 560.6) scale(0.66 1)">90</text>
<text transform="matrix(1 -0.1394 0 1 640.9 552.4) scale(0.66 1)">100</text>
<text transform="matrix(1 -0.1394 0 1 699.9 544.2) scale(0.66 1)">110</text>
<text transform="matrix(1 -0.1394 0 1 758.8 536.0) scale(0.66 1)">120</text>
<text transform="matrix(1 -0.1394 0 1 817.8 527.8) scale(0.66 1)">130</text>
<text transform="matrix(1 -0.1394 0 1 876.7 519.5) scale(0.66 1)">140</text>
</g>
<line x1="52.8" y1="681.9" x2="52.8" y2="698.7" stroke="#6d6e71" stroke-width="1.6"/>
<line x1="236.0" y1="656.2" x2="236.0" y2="673.0" stroke="#6d6e71" stroke-width="1.6"/>
<line x1="372.6" y1="637.2" x2="372.6" y2="654.0" stroke="#6d6e71" stroke-width="1.6"/>
<line x1="916.1" y1="561.2" x2="916.1" y2="578.0" stroke="#6d6e71" stroke-width="1.6"/>
<line x1="57.4" y1="689.7" x2="231.2" y2="665.5" stroke="#6d6e71" stroke-width="1.3"/><circle cx="57.4" cy="689.7" r="1.5" fill="#6d6e71"/><circle cx="231.2" cy="665.5" r="1.5" fill="#6d6e71"/>
<line x1="242.2" y1="663.9" x2="365.8" y2="646.7" stroke="#6d6e71" stroke-width="1.3"/><circle cx="242.2" cy="663.9" r="1.5" fill="#6d6e71"/><circle cx="365.8" cy="646.7" r="1.5" fill="#6d6e71"/>
<line x1="378.6" y1="644.4" x2="908.9" y2="570.5" stroke="#6d6e71" stroke-width="1.3"/><circle cx="378.6" cy="644.4" r="1.5" fill="#6d6e71"/><circle cx="908.9" cy="570.5" r="1.5" fill="#6d6e71"/>
<text transform="matrix(1 -0.1394 0 1 142.5 674.9) scale(1.20 1)" font-size="14.5" font-weight="bold" text-anchor="middle" fill="#f3f3f3" stroke="#3a3a3c" stroke-width="0.85">VI</text>
<text transform="matrix(1 -0.1394 0 1 305.7 651.2) scale(1.08 1)" font-size="14.5" font-weight="bold" text-anchor="middle" fill="#f3f3f3" stroke="#3a3a3c" stroke-width="0.85">PD</text>
<text transform="matrix(1 -0.1394 0 1 621.5 607.2) scale(1.12 1)" font-size="14.5" font-weight="bold" text-anchor="middle" fill="#f3f3f3" stroke="#3a3a3c" stroke-width="0.85">VE</text>
<text transform="matrix(0 -1 1 -0.1394 932.0 498.0) scale(1.30 1)" font-size="10.6" fill="#1d1d1b" stroke="#1d1d1b" stroke-width="0.25">SDS</text>
<text transform="matrix(1 -0.1394 0 1 62.0 244.8) scale(0.716 1)" font-size="22.6" font-weight="bold" stroke="#1d1d1b" stroke-width="0.4" fill="#1d1d1b">55 - MONTECCHIO MAGGIORE</text>
<text transform="matrix(1 -0.1394 0 1 791.0 143.4) scale(0.678 1)" font-size="22.6" font-weight="bold" stroke="#1d1d1b" stroke-width="0.4" fill="#1d1d1b">2 - JESOLO</text>
<g transform="matrix(1 -0.1394 0 1 18.3 232.7)"><rect x="0" y="0" width="36.5" height="35.6" rx="7.5" ry="7.5" fill="url(#gG)" stroke="#1d1d1b" stroke-width="1.6"/>
<g transform="translate(0.2 1.7)">
<line x1="16.3" y1="3.2" x2="16.6" y2="24.6" stroke="#2b5b33" stroke-width="1.3"/>
<circle cx="16.3" cy="3.0" r="1.0" fill="#0a8a3c"/>
<path d="M17 11.2 L10.3 8.6 L11.6 15 L14.2 20.6 L20 18.6 L29.6 19.6 L28.2 9.0 L21 8.2 Z" fill="#fff" stroke="#0a8a3c" stroke-width="0.5"/>
<rect x="11.0" y="9.7" width="2.7" height="2.7" fill="#0c9444" transform="rotate(-14 11.0 9.7)"/>
<rect x="14.5" y="9.0" width="2.7" height="2.7" fill="#0c9444" transform="rotate(-14 14.5 9.0)"/>
<rect x="12.5" y="13.1" width="2.7" height="2.7" fill="#0c9444" transform="rotate(-14 12.5 13.1)"/>
<rect x="16.0" y="12.3" width="2.7" height="2.7" fill="#0c9444" transform="rotate(-14 16.0 12.3)"/>
<rect x="14.0" y="16.7" width="2.7" height="2.7" fill="#0c9444" transform="rotate(-14 14.0 16.7)"/>
<rect x="17.5" y="15.9" width="2.7" height="2.7" fill="#0c9444" transform="rotate(-14 17.5 15.9)"/>
<rect x="19.5" y="10.6" width="2.7" height="2.7" fill="#0c9444" transform="rotate(-14 19.5 10.6)"/>
<rect x="23.0" y="9.4" width="2.7" height="2.7" fill="#0c9444" transform="rotate(-14 23.0 9.4)"/>
<rect x="26.3" y="10.3" width="2.7" height="2.7" fill="#0c9444" transform="rotate(-14 26.3 10.3)"/>
<rect x="21.0" y="13.5" width="2.7" height="2.7" fill="#0c9444" transform="rotate(-14 21.0 13.5)"/>
<rect x="24.6" y="12.7" width="2.7" height="2.7" fill="#0c9444" transform="rotate(-14 24.6 12.7)"/>
<rect x="19.2" y="17.0" width="2.7" height="2.7" fill="#0c9444" transform="rotate(-14 19.2 17.0)"/>
<rect x="22.8" y="16.0" width="2.7" height="2.7" fill="#0c9444" transform="rotate(-14 22.8 16.0)"/>
<rect x="26.5" y="15.8" width="2.7" height="2.7" fill="#0c9444" transform="rotate(-14 26.5 15.8)"/>
</g>
<text x="0" y="0" text-anchor="middle" font-size="8.2" font-weight="bold" fill="#1b1f1b" transform="translate(18.6 32.7) scale(0.735 1)">PARTENZA</text>
</g>
<g transform="matrix(1 -0.1394 0 1 360.6 220.8)"><rect x="0" y="0" width="36.3" height="34.6" rx="7.5" ry="7.5" fill="url(#gP)" stroke="#1d1d1b" stroke-width="1.6"/><text transform="translate(16.6 23.7) skewX(-10)" text-anchor="middle" font-size="16" font-weight="bold" letter-spacing="2.2" fill="#ed1c24" stroke="#ed1c24" stroke-width="5.2" stroke-linejoin="miter">TV</text><text transform="translate(16.6 23.7) skewX(-10)" text-anchor="middle" font-size="16" font-weight="bold" letter-spacing="2.2" fill="#fff" stroke="#fff" stroke-width="2.5" stroke-linejoin="miter">TV</text></g>
<g transform="matrix(1 -0.1394 0 1 473.2 205.0)"><rect x="0" y="0" width="36.3" height="34.6" rx="7.5" ry="7.5" fill="url(#gP)" stroke="#1d1d1b" stroke-width="1.6"/><text transform="translate(16.6 23.7) skewX(-10)" text-anchor="middle" font-size="16" font-weight="bold" letter-spacing="2.2" fill="#ed1c24" stroke="#ed1c24" stroke-width="5.2" stroke-linejoin="miter">TV</text><text transform="translate(16.6 23.7) skewX(-10)" text-anchor="middle" font-size="16" font-weight="bold" letter-spacing="2.2" fill="#fff" stroke="#fff" stroke-width="2.5" stroke-linejoin="miter">TV</text></g>
<g transform="matrix(1 -0.1394 0 1 882.9 112.0)"><rect x="0" y="0" width="36.3" height="35.0" rx="7.5" ry="7.5" fill="url(#gP)" stroke="#1d1d1b" stroke-width="1.6"/>
<path d="M5.6 5.0 Q18.5 3.6 31.7 4.0 L34.5 14.0 Q18 12.9 2.1 14.2 Z" fill="#ed1c24"/>
<text transform="translate(18.0 12.3) skewX(-8) scale(0.80 1)" text-anchor="middle" font-size="8.6" font-weight="bold" fill="#fff">ARRIVO</text>
<path d="M10.4 16.3 L12.3 16.0 L13.1 23.8 Q14.2 27.7 18 27.7 Q22 27.7 23.2 23.8 L23.6 15.9 L25.5 15.9 L25.0 26.6 L25.9 30.8 L10.4 30.8 L11.8 26.6 Z" fill="#ed1c24"/>
<ellipse cx="17.9" cy="22.5" rx="3.5" ry="2.9" fill="#ed1c24"/>
</g>
</g>
</svg>
</body></html>
